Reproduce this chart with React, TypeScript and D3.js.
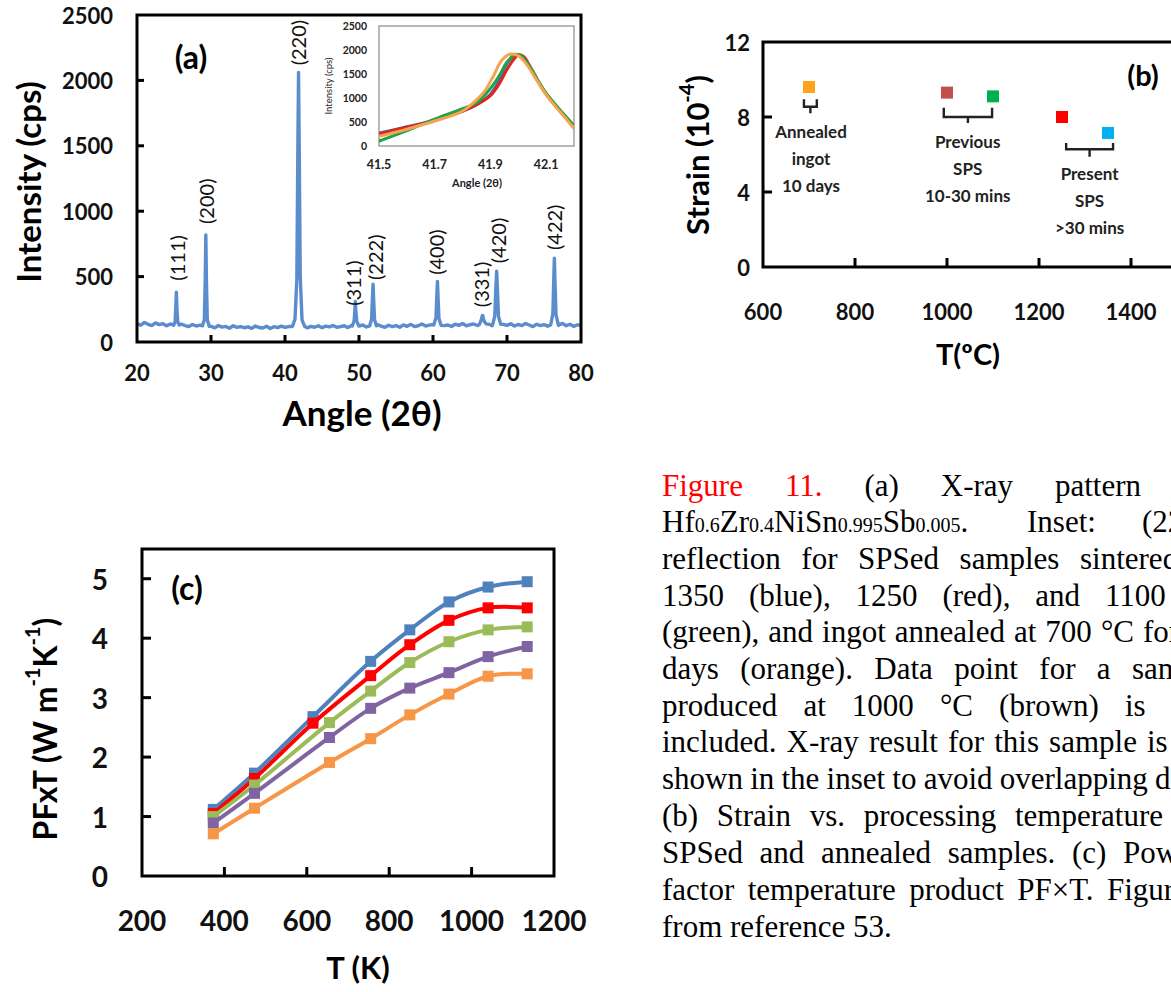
import * as d3 from "d3";

const W = 1171;
const H = 992;
const SANS = "Lato, 'Open Sans', 'DejaVu Sans', sans-serif";
const SERIF = "'Liberation Serif', 'Times New Roman', serif";

// ---------- (a) XRD pattern ----------
const xrdStart = 20;
const xrdStep = 0.5;
// background counts, 20 -> 80 deg every 0.5 deg
const xrdBaseline = [
  142, 128, 150, 135, 126, 146, 133, 140, 124, 138,
  131, 120, 137, 126, 118, 134, 122, 129, 117, 133,
  121, 108, 126, 114, 119, 105, 124, 112, 118, 109,
  116, 104, 122, 111, 107, 120, 103, 117, 110, 121,
  112, 118, 120, 125, 110, 122, 108, 119, 113, 124,
  109, 121, 115, 126, 112, 118, 124, 110, 127, 116,
  122, 130, 115, 127, 119, 133, 121, 112, 128, 118,
  126, 113, 131, 120, 135, 118, 124, 137, 122, 129,
  134, 121, 138, 125, 130, 119, 136, 127, 141, 124,
  132, 138, 126, 143, 131, 137, 124, 140, 129, 135,
  127, 139, 122, 134, 126, 141, 130, 118, 136, 125,
  133, 121, 138, 127, 130, 142, 124, 136, 120, 131,
  128,
];
const xrdPeaks: [number, number][][] = [
  [[24.95, 128], [25.15, 155], [25.25, 270], [25.32, 381], [25.4, 250], [25.5, 155], [25.7, 130]],
  [[28.85, 124], [29.1, 170], [29.22, 470], [29.3, 819], [29.38, 470], [29.5, 170], [29.75, 120]],
  [[41.0, 118], [41.35, 175], [41.6, 480], [41.74, 1500], [41.83, 2060], [41.92, 1500], [42.06, 500], [42.3, 170], [42.65, 120]],
  [[49.1, 122], [49.35, 165], [49.45, 250], [49.5, 310], [49.57, 240], [49.7, 160], [49.95, 125]],
  [[51.45, 124], [51.7, 175], [51.82, 340], [51.9, 442], [51.98, 330], [52.1, 170], [52.35, 124]],
  [[60.1, 130], [60.4, 185], [60.52, 360], [60.6, 463], [60.68, 350], [60.8, 180], [61.1, 127]],
  [[66.25, 133], [66.5, 165], [66.65, 200], [66.72, 203], [66.82, 175], [67.0, 150], [67.2, 138]],
  [[68.1, 140], [68.35, 200], [68.5, 420], [68.6, 542], [68.7, 410], [68.85, 195], [69.15, 135]],
  [[75.9, 130], [76.2, 215], [76.32, 480], [76.4, 641], [76.48, 470], [76.62, 210], [76.95, 128]],
];
const hklLabels = ["(111)", "(200)", "(220)", "(311)", "(222)", "(400)", "(331)", "(420)", "(422)"];
const hklAngle = [25.4, 29.3, 41.8, 49.2, 52.1, 60.4, 66.5, 68.8, 76.4];
const hklHeight = [643, 1076, 2289, 450, 648, 687, 440, 776, 877];
const xrdAngleTicks = [20, 30, 40, 50, 60, 70, 80];
const xrdIntTicks = [0, 500, 1000, 1500, 2000, 2500];

// inset: (220) reflection
const insetAngleTicks = [41.5, 41.7, 41.9, 42.1];
const insetIntTicks = [0, 500, 1000, 1500, 2000, 2500];
const insetBlue: [number, number][] = [
  [41.5, 270], [41.6, 400], [41.7, 540], [41.8, 720], [41.85, 860], [41.9, 1080], [41.93, 1350],
  [41.96, 1720], [41.99, 1900], [42.01, 1880], [42.04, 1650], [42.07, 1350], [42.1, 1080],
  [42.14, 800], [42.17, 600], [42.2, 400],
];
const insetRed: [number, number][] = [
  [41.5, 250], [41.6, 390], [41.7, 530], [41.8, 730], [41.85, 860], [41.9, 1050], [41.93, 1280],
  [41.96, 1600], [41.99, 1850], [42.0, 1900], [42.02, 1860], [42.04, 1680], [42.07, 1370],
  [42.1, 1080], [42.14, 790], [42.17, 590], [42.2, 380],
];
const insetGreen: [number, number][] = [
  [41.5, 100], [41.6, 320], [41.7, 560], [41.8, 780], [41.85, 900], [41.9, 1200], [41.93, 1450],
  [41.96, 1750], [41.99, 1910], [42.01, 1880], [42.04, 1660], [42.07, 1370], [42.1, 1100],
  [42.14, 820], [42.17, 620], [42.2, 430],
];
const insetOrange: [number, number][] = [
  [41.5, 200], [41.6, 350], [41.7, 520], [41.8, 730], [41.85, 960], [41.88, 1150], [41.91, 1450],
  [41.94, 1780], [41.97, 1910], [42.0, 1880], [42.03, 1700], [42.06, 1430], [42.1, 1070],
  [42.14, 780], [42.17, 580], [42.2, 370],
];
const insetSeries = [insetBlue, insetRed, insetGreen, insetOrange];
const insetColors = ["#3a6fb8", "#e2261f", "#1fa34a", "#f7a24c"];

// ---------- (b) strain ----------
const strainT = [700, 1000, 1100, 1250, 1350];
const strainVal = [9.6, 9.3, 9.1, 8.0, 7.15];
const strainColors = ["#ffa31a", "#c0504d", "#00b050", "#ff0000", "#00b0f0"];
const strainTTicks = [600, 800, 1000, 1200, 1400];
const strainTicks = [0, 4, 8, 12];

// ---------- (c) PF x T ----------
const pfTempA = [373, 473, 615, 755, 850, 945, 1040, 1135];
const pfTempB = [373, 473, 655, 755, 850, 945, 1040, 1135];
const pfBlue = [1.12, 1.73, 2.68, 3.61, 4.14, 4.61, 4.86, 4.95];
const pfRed = [1.05, 1.64, 2.57, 3.37, 3.89, 4.3, 4.51, 4.51];
const pfGreen = [1.0, 1.53, 2.58, 3.11, 3.59, 3.94, 4.14, 4.19];
const pfPurple = [0.89, 1.39, 2.33, 2.82, 3.16, 3.42, 3.69, 3.86];
const pfOrange = [0.71, 1.14, 1.91, 2.31, 2.71, 3.06, 3.36, 3.4];
const pfTTicks = [200, 400, 600, 800, 1000, 1200];
const pfTicks = [0, 1, 2, 3, 4, 5];

// ---------- scales ----------
const xA = d3.scaleLinear([20, 80], [137, 581]);
const yA = d3.scaleLinear([0, 2500], [342, 15]);
const xI = d3.scaleLinear([41.5, 42.2], [379, 574]);
const yI = d3.scaleLinear([0, 2500], [146, 26]);
const xB = d3.scaleLinear([600, 1600], [763, 1223]);
const yB = d3.scaleLinear([0, 12], [267, 42]);
const xC = d3.scaleLinear([200, 1200], [142, 554]);
const yC = d3.scaleLinear([0, 5.5], [876, 549]);

type Lin = d3.ScaleLinear<number, number>;

function Frame(props: {
  x: Lin; y: Lin; xTicks: number[]; yTicks: number[]; xMarks: number[]; yMarks: number[];
  fs: number; fw: number | string; xDy: number; yDx: number; tick?: number; sw?: number;
}) {
  const { x, y, xTicks, yTicks, xMarks, yMarks, fs, fw, xDy, yDx } = props;
  const tick = props.tick ?? 8;
  const sw = props.sw ?? 3;
  const [x0, x1] = x.range();
  const [y0, y1] = y.range();
  return (
    <g fontFamily={SANS} fontSize={fs} fontWeight={fw} fill="#111">
      <path d={`M${x0},${y1}H${x1}V${y0}H${x0}Z`} fill="none" stroke="#000" strokeWidth={sw} />
      {xMarks.map((v) => (
        <line key={"xm" + v} x1={x(v)} x2={x(v)} y1={y0} y2={y0 - tick} stroke="#000" strokeWidth={sw} />
      ))}
      {yMarks.map((v) => (
        <line key={"ym" + v} x1={x0} x2={x0 + tick} y1={y(v)} y2={y(v)} stroke="#000" strokeWidth={sw} />
      ))}
      {xTicks.map((v) => (
        <text key={"xt" + v} x={x(v)} y={y0 + xDy} textAnchor="middle" dominantBaseline="central">{v}</text>
      ))}
      {yTicks.map((v) => (
        <text key={"yt" + v} x={x0 - yDx} y={y(v)} textAnchor="end" dominantBaseline="central">{v}</text>
      ))}
    </g>
  );
}

function PanelA() {
  const base: [number, number][] = xrdBaseline.map((v, i) => [xrdStart + i * xrdStep, v]);
  const spectrum = base
    .filter(([a]) => !xrdPeaks.some((p) => a >= p[0][0] && a <= p[p.length - 1][0]))
    .concat(xrdPeaks.flat())
    .sort((p, q) => p[0] - q[0]);
  const line = d3.line<[number, number]>().x((d) => xA(d[0])).y((d) => yA(d[1]));
  const insetLine = d3
    .line<[number, number]>()
    .x((d) => xI(d[0]))
    .y((d) => yI(d[1]))
    .curve(d3.curveCatmullRom);
  return (
    <g>
      <path d={line(spectrum) ?? ""} fill="none" stroke="#5b8ccd" strokeWidth={3.4} strokeLinejoin="round" />
      {hklLabels.map((t, i) => (
        <text
          key={t}
          transform={`translate(${xA(hklAngle[i])},${yA(hklHeight[i])}) rotate(-90)`}
          textAnchor="middle"
          dominantBaseline="central"
          fontFamily={SANS}
          fontSize={20}
          fill="#111"
        >
          {t}
        </text>
      ))}
      <Frame x={xA} y={yA} xTicks={xrdAngleTicks} yTicks={xrdIntTicks} xMarks={[30, 40, 50, 60, 70]}
        yMarks={[500, 1000, 1500, 2000]} fs={22} fw="bold" xDy={30} yDx={24} tick={7} />
      <text x={191} y={56} textAnchor="middle" dominantBaseline="central" fontFamily={SANS} fontWeight="bold" fontSize={32}>(a)</text>
      <text transform="translate(28,182) rotate(-90)" textAnchor="middle" dominantBaseline="central"
        fontFamily={SANS} fontWeight="bold" fontSize={33}>Intensity (cps)</text>
      <text x={362} y={412} textAnchor="middle" dominantBaseline="central" fontFamily={SANS} fontWeight="bold" fontSize={35}>Angle (2θ)</text>

      {/* inset */}
      <rect x={379} y={26} width={195} height={120} fill="#fff" stroke="#8a8a8a" strokeWidth={1.2} />
      <g clipPath="url(#insetClip)">
        {insetSeries.map((s, i) => (
          <path key={i} d={insetLine(s) ?? ""} fill="none" stroke={insetColors[i]} strokeWidth={3} strokeLinecap="round" />
        ))}
      </g>
      <g fontFamily={SANS} fontWeight="bold" fill="#222">
        {insetIntTicks.map((v) => (
          <text key={v} x={367} y={yI(v)} fontSize={10.5} textAnchor="end" dominantBaseline="central">{v}</text>
        ))}
        {insetAngleTicks.map((v) => (
          <text key={v} x={xI(v)} y={164} fontSize={12.5} textAnchor="middle" dominantBaseline="central">{v.toFixed(1)}</text>
        ))}
        <text x={477} y={182} fontSize={11} textAnchor="middle" dominantBaseline="central">Angle (2θ)</text>
        <text transform="translate(328,86) rotate(-90)" fontSize={9.5} textAnchor="middle" dominantBaseline="central" fontWeight="normal">Intensity (cps)</text>
      </g>
    </g>
  );
}

function Bracket({ t1, t2, top, mid, stem }: { t1: number; t2: number; top: number; mid: number; stem: number }) {
  const a = xB(t1);
  const b = xB(t2);
  const m = (a + b) / 2;
  const yt = yB(top);
  const ym = yB(mid);
  const ys = yB(stem);
  return (
    <path d={`M${a},${yt}V${ym}H${b}V${yt}M${m},${ym}V${ys}`} fill="none" stroke="#222" strokeWidth={2.4} />
  );
}

function PanelB() {
  const notes = [
    { x: xB(700) + 2, lines: ["Annealed", "ingot", "10 days"], y0: 131 },
    { x: xB(1045), lines: ["Previous", "SPS", "10-30 mins"], y0: 141 },
    { x: xB(1310), lines: ["Present", "SPS", ">30 mins"], y0: 173 },
  ];
  return (
    <g>
      <Frame x={xB} y={yB} xTicks={strainTTicks} yTicks={strainTicks} xMarks={[800, 1000, 1200, 1400]}
        yMarks={[4, 8]} fs={22} fw="bold" xDy={44} yDx={13} tick={9} />
      {strainT.map((t, i) => (
        <rect key={t} x={xB(t) - 6} y={yB(strainVal[i]) - 6} width={12} height={12} fill={strainColors[i]} />
      ))}
      <Bracket t1={689} t2={717} top={8.95} mid={8.55} stem={8.2} />
      <Bracket t1={993} t2={1098} top={8.5} mid={8.0} stem={7.68} />
      <Bracket t1={1259} t2={1361} top={6.62} mid={6.28} stem={5.88} />
      <g fontFamily={SANS} fontWeight="bold" fontSize={17} fill="#222">
        {notes.map((n) =>
          n.lines.map((l, j) => (
            <text key={n.x + l} x={n.x} y={n.y0 + j * 27} textAnchor="middle" dominantBaseline="central">{l}</text>
          ))
        )}
      </g>
      <text x={1143} y={74} textAnchor="middle" dominantBaseline="central" fontFamily={SANS} fontWeight="bold" fontSize={29}>(b)</text>
      <text transform="translate(697,155) rotate(-90)" textAnchor="middle" dominantBaseline="central"
        fontFamily={SANS} fontWeight="bold" fontSize={31}>
        Strain (10<tspan fontSize={20} dy={-11}>-4</tspan><tspan dy={11}>)</tspan>
      </text>
      <text x={968} y={353} textAnchor="middle" dominantBaseline="central" fontFamily={SANS} fontWeight="bold" fontSize={29}>T(ºC)</text>
    </g>
  );
}

function PanelC() {
  const series = [
    { t: pfTempA, v: pfBlue, c: "#4f81bd" },
    { t: pfTempA, v: pfRed, c: "#ff0000" },
    { t: pfTempB, v: pfGreen, c: "#9bbb59" },
    { t: pfTempB, v: pfPurple, c: "#8064a2" },
    { t: pfTempB, v: pfOrange, c: "#f79646" },
  ];
  return (
    <g>
      <Frame x={xC} y={yC} xTicks={pfTTicks} yTicks={pfTicks} xMarks={[400, 600, 800, 1000]}
        yMarks={[1, 2, 3, 4, 5]} fs={28} fw="bold" xDy={44} yDx={34} tick={9} />
      {series.map((s, k) => {
        const pts = s.v.map((v, i) => [xC(s.t[i]), yC(v)] as [number, number]);
        const path = d3.line().curve(d3.curveCatmullRom.alpha(0.5))(pts) ?? "";
        return (
          <g key={k}>
            <path d={path} fill="none" stroke={s.c} strokeWidth={4} />
            {pts.map((p, i) => (
              <rect key={i} x={p[0] - 5.5} y={p[1] - 5.5} width={11} height={11} fill={s.c} />
            ))}
          </g>
        );
      })}
      <text x={187} y={587} textAnchor="middle" dominantBaseline="central" fontFamily={SANS} fontWeight="bold" fontSize={32}>(c)</text>
      <text transform="translate(44,729) rotate(-90)" textAnchor="middle" dominantBaseline="central"
        fontFamily={SANS} fontWeight="bold" fontSize={32}>
        PFxT (W m<tspan fontSize={20} dy={-12}>-1</tspan><tspan dy={12}>K</tspan><tspan fontSize={20} dy={-12}>-1</tspan><tspan dy={12}>)</tspan>
      </text>
      <text x={358} y={967} textAnchor="middle" dominantBaseline="central" fontFamily={SANS} fontWeight="bold" fontSize={31}>T (K)</text>
    </g>
  );
}

// caption: justified lines; `end` is where the last visible word starts
const CAP_FS = 31;
const CAP_X = 662;
const captionLines: { y: number; words: string[]; end?: number; red?: number }[] = [
  { y: 496, words: ["Figure", "11.", "(a)", "X-ray", "pattern"], end: 1055, red: 2 },
  { y: 532, words: [] },
  { y: 569, words: ["reflection", "for", "SPSed", "samples", "sintered"], end: 1080 },
  { y: 606, words: ["1350", "(blue),", "1250", "(red),", "and", "1100"], end: 1105 },
  { y: 642, words: ["(green),", "and", "ingot", "annealed", "at", "700", "°C", "for"], end: 1143 },
  { y: 679, words: ["days", "(orange).", "Data", "point", "for", "a", "sample"], end: 1132 },
  { y: 716, words: ["produced", "at", "1000", "°C", "(brown)", "is"], end: 1125 },
  { y: 752, words: ["included.", "X-ray", "result", "for", "this", "sample", "is"], end: 1147 },
  { y: 789, words: ["shown", "in", "the", "inset", "to", "avoid", "overlapping", "data."], end: 1155 },
  { y: 826, words: ["(b)", "Strain", "vs.", "processing", "temperature"], end: 1015 },
  { y: 863, words: ["SPSed", "and", "annealed", "samples.", "(c)", "Power"], end: 1123 },
  { y: 900, words: ["factor", "temperature", "product", "PF×T.", "Figure"], end: 1107 },
  { y: 937, words: ["from", "reference", "53."] },
];

let measureCtx: CanvasRenderingContext2D | null = null;
function textWidth(s: string, fs: number) {
  if (!measureCtx) measureCtx = document.createElement("canvas").getContext("2d");
  if (!measureCtx) return s.length * fs * 0.45;
  measureCtx.font = `${fs}px 'Liberation Serif', 'Times New Roman', serif`;
  return measureCtx.measureText(s).width;
}

function layoutWords(words: string[], end?: number): number[] {
  const widths = words.map((w) => textWidth(w, CAP_FS));
  const space = textWidth(" ", CAP_FS);
  let gap = space;
  if (end !== undefined && words.length > 1) {
    const used = d3.sum(widths.slice(0, -1));
    gap = (end - CAP_X - used) / (words.length - 1);
  }
  const xs: number[] = [];
  let x = CAP_X;
  widths.forEach((w) => {
    xs.push(x);
    x += w + gap;
  });
  return xs;
}

function Caption() {
  const sub = 20;
  return (
    <g fontFamily={SERIF} fontSize={CAP_FS} fill="#000">
      {captionLines.map((l, i) => {
        if (i === 1) {
          return (
            <g key={i}>
              <text x={CAP_X} y={l.y}>
                Hf<tspan fontSize={sub}>0.6</tspan>Zr<tspan fontSize={sub}>0.4</tspan>NiSn<tspan fontSize={sub}>0.995</tspan>Sb<tspan fontSize={sub}>0.005</tspan>.
              </text>
              <text x={1027} y={l.y}>Inset:</text>
              <text x={1142} y={l.y}>(220)</text>
            </g>
          );
        }
        const xs = layoutWords(l.words, l.end);
        return (
          <g key={i}>
            {l.words.map((w, j) => (
              <text key={j} x={xs[j]} y={l.y} fill={l.red && j < l.red ? "#ff0000" : "#000"}>{w}</text>
            ))}
          </g>
        );
      })}
    </g>
  );
}

export default function App() {
  return (
    <svg width={W} height={H} viewBox={`0 0 ${W} ${H}`}
      style={{ position: "absolute", left: 0, top: 0, display: "block", background: "#fff" }}>
      <defs>
        <clipPath id="insetClip">
          <rect x={379} y={26} width={195} height={120} />
        </clipPath>
      </defs>
      <rect width={W} height={H} fill="#fff" />
      <PanelA />
      <PanelB />
      <PanelC />
      <Caption />
    </svg>
  );
}
